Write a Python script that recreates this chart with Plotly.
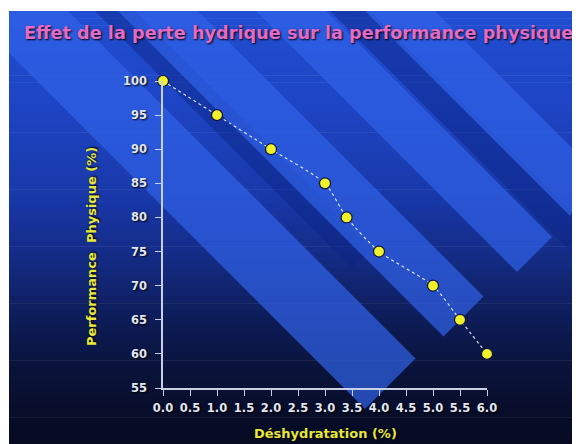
import numpy as np
import plotly.graph_objects as go

# ---- data ----
deshydratation = [0.0, 1.0, 2.0, 3.0, 3.4, 4.0, 5.0, 5.5, 6.0]
performance = [100, 95, 90, 85, 80, 75, 70, 65, 60]
x_tick_vals = [0.0, 0.5, 1.0, 1.5, 2.0, 2.5, 3.0, 3.5, 4.0, 4.5, 5.0, 5.5, 6.0]
x_tick_text = ["0.0", "0.5", "1.0", "1.5", "2.0", "2.5", "3.0", "3.5", "4.0", "4.5", "5.0", "5.5", "6.0"]
y_tick_vals = [55, 60, 65, 70, 75, 80, 85, 90, 95, 100]
title_text = "Effet de la perte hydrique sur la performance physique"
x_title = "Déshydratation (%)"
y_title = "Performance  Physique (%)"

# ---- layout geometry (pixels) ----
OFF = 8  # page margin around the figure
W, H = 580, 444
L, T = 163 - OFF, 81 - OFF
PW, PH = 324, 307
R = W - L - PW
B = H - T - PH


def px(x):  # screenshot x -> paper
    return (x - OFF - L) / PW


def py(y):  # screenshot y -> paper
    return (T + PH - (y - OFF)) / PH


shapes = []

# background vertical gradient
stops_y = [11, 100, 200, 260, 320, 370, 420, 460]
stops_c = np.array([
    [34, 78, 210], [30, 70, 198], [25, 56, 168], [20, 43, 132],
    [14, 29, 88], [10, 19, 58], [8, 13, 40], [6, 10, 30]], dtype=float)
edges = np.linspace(11, 460, 64)
for y0, y1 in zip(edges[:-1], edges[1:]):
    ym = (y0 + y1) / 2
    c = [int(np.interp(ym, stops_y, stops_c[:, k])) for k in range(3)]
    shapes.append(dict(type="rect", xref="paper", yref="paper", layer="below",
                       x0=px(9), x1=px(W + 20), y0=py(y1 + 0.6), y1=py(y0),
                       fillcolor=f"rgb({c[0]},{c[1]},{c[2]})", line=dict(width=0)))


def stripe(a, w, e, color):
    y0 = -300
    ye_r = (e - a - w + 11) / 2
    ye_l = (e - a + 11) / 2
    pts = [(a + (y0 - 11), y0), (a + w + (y0 - 11), y0),
           (a + w + (ye_r - 11), ye_r), (a + (ye_l - 11), ye_l)]
    path = "M " + " L ".join(f"{px(x):.4f},{py(y):.4f}" for x, y in pts) + " Z"
    shapes.append(dict(type="path", xref="paper", yref="paper", layer="below",
                       path=path, fillcolor=color, line=dict(width=0)))


# darker stripes
stripe(95, 40, 620, "rgba(12,35,130,0.45)")
stripe(330, 40, 900, "rgba(12,35,130,0.45)")
# lighter stripes
light = "rgba(48,98,232,0.70)"
stripe(-33, 101, 774, light)
stripe(118, 80, 780, light)
stripe(256, 70, 789, light)
stripe(365, 70, 785, light)

# white border (top and left)
shapes.append(dict(type="rect", xref="paper", yref="paper", layer="below",
                   x0=px(-20), x1=px(9), y0=py(H + 40), y1=py(-20),
                   fillcolor="white", line=dict(width=0)))
shapes.append(dict(type="rect", xref="paper", yref="paper", layer="below",
                   x0=px(-20), x1=px(W + 40), y0=py(11), y1=py(-20),
                   fillcolor="white", line=dict(width=0)))

fig = go.Figure()
fig.add_trace(go.Scatter(
    x=deshydratation, y=performance, mode="lines+markers",
    line=dict(color="rgba(255,255,255,0.9)", width=1.1, dash="dot", shape="spline", smoothing=0.6),
    marker=dict(size=11, color="#f2f22a", line=dict(color="#0c1440", width=1.2)),
    cliponaxis=False, showlegend=False, hoverinfo="x+y"))

shadow = "1px 1px 2px #000"
axis_common = dict(showline=True, linecolor="#c8cfe6", linewidth=1.5, ticks="outside",
                   ticklen=6, tickcolor="#c8cfe6", tickwidth=1.2, showgrid=False, zeroline=False,
                   tickfont=dict(family="DejaVu Sans", size=11.5, color="#e2e6f2", weight="bold", shadow=shadow))

fig.update_layout(
    width=W, height=H, margin=dict(l=L, r=R, t=T, b=B, pad=0),
    paper_bgcolor="white", plot_bgcolor="rgba(0,0,0,0)",
    shapes=shapes,
    xaxis=dict(range=[0, 6], tickvals=x_tick_vals, ticktext=x_tick_text, ticklabelstandoff=2, **axis_common),
    yaxis=dict(range=[55, 100], tickvals=y_tick_vals, ticklabelstandoff=6, **axis_common),
    annotations=[
        dict(text=title_text, xref="paper", yref="paper", x=px(22), y=py(33),
             xanchor="left", yanchor="middle", showarrow=False,
             font=dict(family="DejaVu Sans", size=17.7, color="#e46ac8", weight="bold", shadow=shadow)),
        dict(text=y_title, xref="paper", yref="paper", x=px(91), y=py(247),
             xanchor="center", yanchor="middle", textangle=-90, showarrow=False,
             font=dict(family="DejaVu Sans", size=13, color="#e8e83c", weight="bold", shadow=shadow)),
        dict(text=x_title, xref="paper", yref="paper", x=px(325), y=py(433),
             xanchor="center", yanchor="middle", showarrow=False,
             font=dict(family="DejaVu Sans", size=13, color="#e8e83c", weight="bold", shadow=shadow)),
    ],
)

fig.write_html("out.html")
